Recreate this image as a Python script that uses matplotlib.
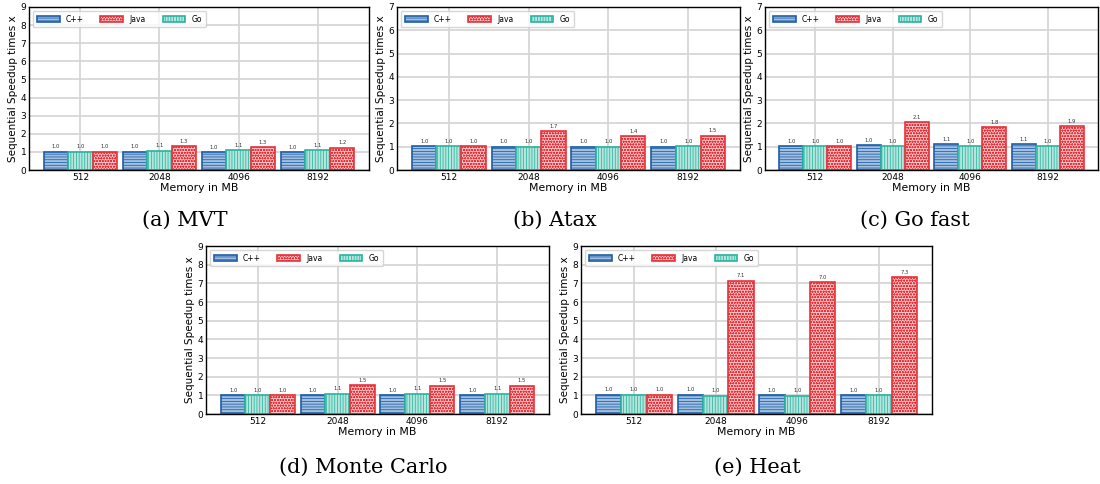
import numpy as np
import matplotlib
matplotlib.use('Agg')
import matplotlib.pyplot as plt

plt.rcParams['hatch.linewidth'] = 0.55

memory = ['512', '2048', '4096', '8192']
languages = ['C++', 'Go', 'Java']

panel_names = ['(a) MVT', '(b) Atax', '(c) Go fast', '(d) Monte Carlo', '(e) Heat']
panel_ymax = [9, 7, 7, 9, 9]

mvt_cpp = [1.0, 1.0, 0.98, 0.98]
mvt_go = [1.0, 1.07, 1.1, 1.1]
mvt_java = [1.0, 1.32, 1.27, 1.24]

atax_cpp = [1.02, 1.0, 1.0, 1.0]
atax_go = [1.02, 1.0, 1.0, 1.02]
atax_java = [1.02, 1.67, 1.44, 1.47]

gofast_cpp = [1.02, 1.06, 1.1, 1.1]
gofast_go = [1.02, 1.02, 1.03, 1.02]
gofast_java = [1.02, 2.06, 1.83, 1.88]

monte_cpp = [1.0, 1.0, 1.0, 1.0]
monte_go = [1.0, 1.08, 1.08, 1.08]
monte_java = [1.0, 1.55, 1.5, 1.5]

heat_cpp = [1.02, 1.02, 1.0, 1.0]
heat_go = [1.02, 0.98, 0.98, 1.0]
heat_java = [1.02, 7.13, 7.05, 7.33]

# label values as printed on the bars
mvt_lbl = [[1.0, 1.0, 1.0, 1.0], [1.0, 1.1, 1.1, 1.1], [1.0, 1.3, 1.3, 1.2]]
atax_lbl = [[1.0, 1.0, 1.0, 1.0], [1.0, 1.0, 1.0, 1.0], [1.0, 1.7, 1.4, 1.5]]
gofast_lbl = [[1.0, 1.0, 1.1, 1.1], [1.0, 1.0, 1.0, 1.0], [1.0, 2.1, 1.8, 1.9]]
monte_lbl = [[1.0, 1.0, 1.0, 1.0], [1.0, 1.1, 1.1, 1.1], [1.0, 1.5, 1.5, 1.5]]
heat_lbl = [[1.0, 1.0, 1.0, 1.0], [1.0, 1.0, 1.0, 1.0], [1.0, 7.1, 7.0, 7.3]]

panels = [
    (mvt_cpp, mvt_go, mvt_java, mvt_lbl),
    (atax_cpp, atax_go, atax_java, atax_lbl),
    (gofast_cpp, gofast_go, gofast_java, gofast_lbl),
    (monte_cpp, monte_go, monte_java, monte_lbl),
    (heat_cpp, heat_go, heat_java, heat_lbl),
]

face = {'C++': '#a3bfdf', 'Go': '#b4e6de', 'Java': '#f9c4c6'}
edge = {'C++': '#1c5ea6', 'Go': '#2bb3a0', 'Java': '#e8323a'}
hatch = {'C++': '------', 'Go': '||||||', 'Java': 'oooooo'}

W, H = 1100, 484
# axes boxes in pixels: left, right, top, bottom
boxes = [(29, 369, 7, 170), (397, 740, 7, 170), (765, 1098, 7, 170),
         (206, 549, 246, 414), (581, 932, 246, 414)]
captions = [(185, 220), (555, 220), (915, 220), (363, 467), (757, 467)]

fig = plt.figure(figsize=(11, 4.84), dpi=100)

x = np.arange(len(memory))
w = 0.31
for k, (cpp, go, java, lbl) in enumerate(panels):
    l, r, t, b = boxes[k]
    ax = fig.add_axes([l / W, (H - b) / H, (r - l) / W, (b - t) / H])
    ax.set_axisbelow(True)
    ax.grid(True, color='#d3d3d3', linewidth=1.2)
    handles = {}
    for j, (lang, vals) in enumerate(zip(languages, [cpp, go, java])):
        bars = ax.bar(x + (j - 1) * w, vals, w, facecolor=face[lang],
                      edgecolor=edge[lang], hatch=hatch[lang], linewidth=1.2,
                      label=lang)
        handles[lang] = bars
        for xi, v, t_ in zip(x + (j - 1) * w, vals, lbl[j]):
            ax.text(xi, v + panel_ymax[k] * 0.015, '%.1f' % t_, ha='center',
                    va='bottom', fontsize=3.8, color='#333333')
    ax.set_xlim(-0.65, 3.65)
    ax.set_ylim(0, panel_ymax[k])
    ax.set_yticks(range(panel_ymax[k] + 1))
    ax.set_xticks(x)
    ax.set_xticklabels(memory)
    ax.tick_params(labelsize=6.5, length=0, pad=2)
    ax.set_xlabel('Memory in MB', fontsize=7.8, labelpad=1)
    ax.set_ylabel('Sequential Speedup times x', fontsize=7.5, labelpad=2)
    for s in ax.spines.values():
        s.set_color('black')
        s.set_linewidth(1.0)
    ax.legend([handles['C++'], handles['Java'], handles['Go']], ['C++', 'Java', 'Go'],
              loc='upper left', ncol=3, fontsize=5.5, frameon=True,
              handlelength=3, columnspacing=2.2, borderpad=0.5,
              edgecolor='#cccccc', fancybox=True)
    cx, cy = captions[k]
    fig.text(cx / W, 1 - cy / H, panel_names[k], ha='center', va='center',
             fontsize=15, family='DejaVu Serif')

fig.savefig('out.png', dpi=100)
